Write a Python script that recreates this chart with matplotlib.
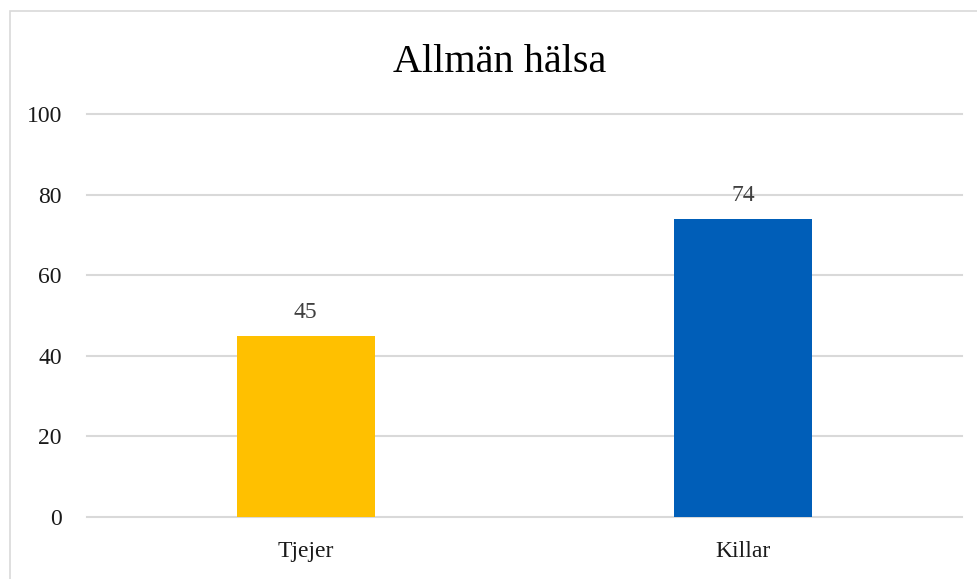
import matplotlib
matplotlib.use('Agg')
import matplotlib.pyplot as plt
from matplotlib.patches import Rectangle

# Chart data
categories = ['Tjejer', 'Killar']
values = [45, 74]
bar_colors = ['#FFC000', '#005EB8']
y_ticks = [0, 20, 40, 60, 80, 100]
title = 'Allmän hälsa'

plt.rcParams['font.family'] = ['Liberation Serif', 'DejaVu Serif']

fig = plt.figure(figsize=(9.78, 5.79), dpi=100)
ax = fig.add_axes([87 / 978, 62 / 579, 875 / 978, 403 / 579])

# outer chart frame (cut by the image edge on right/bottom)
fig.patches.append(Rectangle((9.5 / 978, -0.05), 1.1, 1.05 - 10.5 / 579,
                             transform=fig.transFigure, fill=False,
                             edgecolor='#d9d9d9', linewidth=1.2))

x = list(range(len(categories)))
bars = ax.bar(x, values, width=0.315, color=bar_colors, zorder=3)

for xi, v in zip(x, values):
  ax.annotate(str(v), (xi, v), xytext=(0, 13), textcoords='offset points',
              ha='center', va='baseline', fontsize=17, color='#404040')

ax.set_xlim(-0.5, 1.5)
ax.set_ylim(0, 100)
ax.set_yticks(y_ticks)
ax.set_xticks(x)
ax.set_xticklabels(categories)
ax.tick_params(axis='y', length=0, pad=18, labelsize=17, labelcolor='#1a1a1a')
ax.tick_params(axis='x', length=0, pad=17, labelsize=17, labelcolor='#1a1a1a')
ax.grid(axis='y', color='#d9d9d9', linewidth=1.5, zorder=0)
for line in ax.get_ygridlines():
  line.set_clip_on(False)
for s in ax.spines.values():
  s.set_visible(False)

fig.text(500 / 978, 1 - 72 / 579, title, ha='center', va='baseline',
         fontsize=29, color='#000000')

fig.savefig('out.png', dpi=100)
